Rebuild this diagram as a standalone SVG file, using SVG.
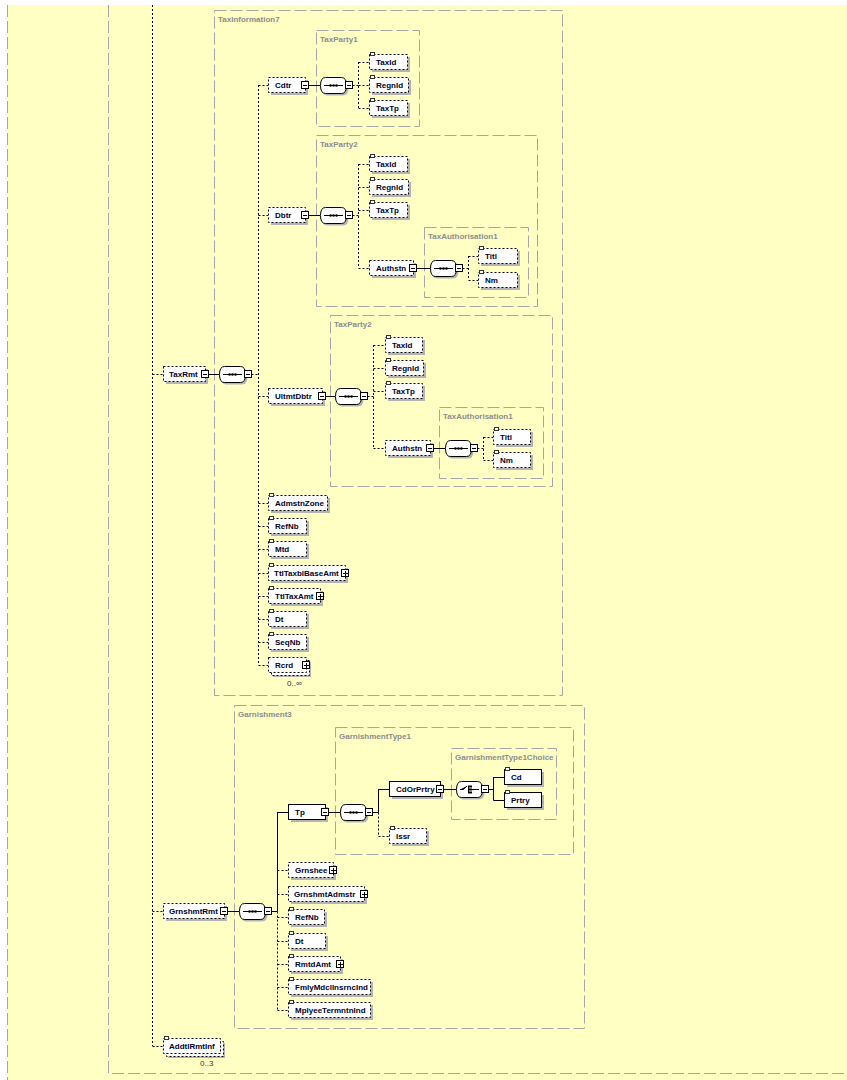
<svg xmlns="http://www.w3.org/2000/svg" xmlns:xlink="http://www.w3.org/1999/xlink" width="847" height="1080" viewBox="0 0 847 1080">
<style>
.g{fill:none;stroke:#a6a6a6;stroke-dasharray:12 4}
.gl{font-family:"Liberation Sans",Arial,sans-serif;font-weight:bold;font-size:8px;fill:#8c8c8c}
.n{fill:#fff;stroke:#000;stroke-dasharray:2 2}
.r{fill:#fff;stroke:#000}
.s{fill:#b4b4b4}
.t{font-family:"Liberation Sans",Arial,sans-serif;font-weight:bold;font-size:8px;fill:#00002a}
.m{font-family:"Liberation Sans",Arial,sans-serif;font-size:8px;fill:#333}
.d{fill:none;stroke:#000;stroke-dasharray:2 2}
.l{fill:none;stroke:#000}
</style>
<defs>
<g id="minus"><rect x="0.5" y="-3.5" width="7" height="7" fill="#fff" stroke="#000"/><path d="M2,0.5H6" stroke="#000"/></g>
<g id="plus"><rect x="0.5" y="-3.5" width="7" height="7" fill="#fff" stroke="#000"/><path d="M2,0.5H7M4.5,-2V3" stroke="#000"/></g>
<g id="eq"><rect x="0.5" y="0.5" width="4" height="3" fill="#fff" stroke="#333"/></g>
<g id="seq">
<path d="M7,-5.5H23Q28.5,-5.5 28.5,2.5Q28.5,10.5 23,10.5H7Q2.5,10.5 2.5,2.5Q2.5,-5.5 7,-5.5Z" fill="#b4b4b4"/>
<path d="M5.5,-7.5H21.5Q26.5,-7.5 26.5,0.5Q26.5,8.5 21.5,8.5H5.5Q0.5,8.5 0.5,0.5Q0.5,-7.5 5.5,-7.5Z" fill="#fff" stroke="#000"/>
<path d="M4,0.5H23" stroke="#000"/>
<circle cx="10.5" cy="0.5" r="1.3"/><circle cx="13.5" cy="0.5" r="1.3"/><circle cx="16.5" cy="0.5" r="1.3"/>
<use href="#minus" x="25" y="0"/>
</g>
<g id="cho">
<path d="M7,-5.5H23Q28.5,-5.5 28.5,2.5Q28.5,10.5 23,10.5H7Q2.5,10.5 2.5,2.5Q2.5,-5.5 7,-5.5Z" fill="#b4b4b4"/>
<path d="M5.5,-7.5H21.5Q26.5,-7.5 26.5,0.5Q26.5,8.5 21.5,8.5H5.5Q0.5,8.5 0.5,0.5Q0.5,-7.5 5.5,-7.5Z" fill="#fff" stroke="#000"/>
<path d="M4,0.5H7.5L11,-3M12.5,-3.5V4.5M16,0.5H23" stroke="#000"/>
<rect x="13" y="-3.5" width="3" height="2"/><rect x="13" y="-0.5" width="3" height="2"/><rect x="13" y="2.5" width="3" height="2"/>
<use href="#minus" x="25" y="0"/>
</g>
</defs>

<rect x="7" y="5" width="840" height="1075" fill="#ffffc4"/>

<g id="frames">
<path class="g" d="M7.5,5V1080M108.5,5V1073.5H847"/>
<rect class="g" x="214.5" y="10.5" width="348" height="685"/><text class="gl" x="218" y="22">TaxInformation7</text>
<rect class="g" x="316.5" y="30.5" width="103" height="96"/><text class="gl" x="320" y="42">TaxParty1</text>
<rect class="g" x="316.5" y="135.5" width="221" height="171"/><text class="gl" x="320" y="147">TaxParty2</text>
<rect class="g" x="424.5" y="227.5" width="104" height="70"/><text class="gl" x="428" y="239">TaxAuthorisation1</text>
<rect class="g" x="330.5" y="315.5" width="222" height="171"/><text class="gl" x="334" y="327">TaxParty2</text>
<rect class="g" x="439.5" y="407.5" width="104" height="71"/><text class="gl" x="443" y="419">TaxAuthorisation1</text>
<rect class="g" x="234.5" y="705.5" width="350" height="323"/><text class="gl" x="238" y="717">Garnishment3</text>
<rect class="g" x="335.5" y="727.5" width="238" height="127"/><text class="gl" x="339" y="739">GarnishmentType1</text>
<rect class="g" x="451.5" y="748.5" width="105" height="71"/><text class="gl" x="455" y="760">GarnishmentType1Choice</text>
</g>

<g id="connectors">
<path class="d" d="M152.5,5V1046M152.5,374.5H163M152.5,911.5H163M152.5,1046.5H163"/>
<path class="l" d="M208.5,374.5H219"/>
<path class="d" d="M251.5,374.5H258.5M258.5,85V665M258.5,85.5H268M258.5,215.5H268M258.5,396.5H268M258.5,503.5H268M258.5,526.5H268M258.5,549.5H268M258.5,573.5H268M258.5,596.5H268M258.5,619.5H268M258.5,642.5H268M258.5,665.5H268"/>
<path class="l" d="M308.5,85.5H320M308.5,215.5H320M325.5,396.5H335M416.5,268.5H430M433.5,448.5H445"/>
<path class="d" d="M352.5,85.5H358.5M358.5,62V108M358.5,62.5H369M358.5,108.5H369M358.5,85.5H369"/>
<path class="d" d="M352.5,215.5H358.5M358.5,164V268M358.5,164.5H369M358.5,187.5H369M358.5,210.5H369M358.5,268.5H369"/>
<path class="d" d="M462.5,268.5H468.5M468.5,256V280M468.5,256.5H478M468.5,280.5H478"/>
<path class="d" d="M367.5,396.5H373.5M373.5,345V448M373.5,345.5H385M373.5,368.5H385M373.5,391.5H385M373.5,448.5H385"/>
<path class="d" d="M477.5,448.5H483.5M483.5,437V460M483.5,437.5H493M483.5,460.5H493"/>
<path class="l" d="M227.5,911.5H239M271.5,911.5H277.5M277.5,812V911.5M277.5,812.5H288"/>
<path class="d" d="M277.5,911.5V1010M277.5,870.5H288M277.5,894.5H288M277.5,917.5H288M277.5,941.5H288M277.5,964.5H288M277.5,987.5H288M277.5,1010.5H288"/>
<path class="l" d="M328.5,812.5H340M372.5,812.5H378.5M378.5,789V812.5M378.5,789.5H389M443.5,789.5H456M488.5,789.5H493.5M493.5,777V800.5M493.5,777.5H504M493.5,800.5H504"/>
<path class="d" d="M378.5,812.5V836M378.5,836.5H389"/>
</g>

<g id="TaxRmt"><rect class="s" x="166" y="369" width="42" height="15"/><rect class="n" x="163.5" y="366.5" width="42" height="15"/><text class="t" x="169" y="377">TaxRmt</text><use href="#minus" x="201" y="374"/><use href="#seq" x="219" y="374"/></g>

<g id="Cdtr"><rect class="s" x="271" y="80" width="37" height="15"/><rect class="n" x="268.5" y="77.5" width="37" height="15"/><text class="t" x="275" y="88">Cdtr</text><use href="#minus" x="301" y="85"/><use href="#seq" x="320" y="85"/></g>
<g id="Cdtr-TaxId"><rect class="s" x="372" y="57" width="38" height="15"/><rect class="n" x="369.5" y="54.5" width="38" height="15"/><use href="#eq" x="370" y="52"/><text class="t" x="376" y="65">TaxId</text></g>
<g id="Cdtr-RegnId"><rect class="s" x="372" y="80" width="39" height="15"/><rect class="n" x="369.5" y="77.5" width="39" height="15"/><use href="#eq" x="370" y="75"/><text class="t" x="376" y="88">RegnId</text></g>
<g id="Cdtr-TaxTp"><rect class="s" x="372" y="103" width="38" height="15"/><rect class="n" x="369.5" y="100.5" width="38" height="15"/><use href="#eq" x="370" y="98"/><text class="t" x="376" y="111">TaxTp</text></g>

<g id="Dbtr"><rect class="s" x="271" y="210" width="37" height="15"/><rect class="n" x="268.5" y="207.5" width="37" height="15"/><text class="t" x="275" y="218">Dbtr</text><use href="#minus" x="301" y="215"/><use href="#seq" x="320" y="215"/></g>
<g id="Dbtr-TaxId"><rect class="s" x="372" y="159" width="38" height="15"/><rect class="n" x="369.5" y="156.5" width="38" height="15"/><use href="#eq" x="370" y="154"/><text class="t" x="376" y="167">TaxId</text></g>
<g id="Dbtr-RegnId"><rect class="s" x="372" y="182" width="39" height="15"/><rect class="n" x="369.5" y="179.5" width="39" height="15"/><use href="#eq" x="370" y="177"/><text class="t" x="376" y="190">RegnId</text></g>
<g id="Dbtr-TaxTp"><rect class="s" x="372" y="205" width="38" height="15"/><rect class="n" x="369.5" y="202.5" width="38" height="15"/><use href="#eq" x="370" y="200"/><text class="t" x="376" y="213">TaxTp</text></g>
<g id="Dbtr-Authstn"><rect class="s" x="372" y="263" width="44" height="15"/><rect class="n" x="369.5" y="260.5" width="44" height="15"/><text class="t" x="376" y="271">Authstn</text><use href="#minus" x="409" y="268"/><use href="#seq" x="430" y="268"/></g>
<g id="Dbtr-Titl"><rect class="s" x="481" y="251" width="39" height="15"/><rect class="n" x="478.5" y="248.5" width="39" height="15"/><use href="#eq" x="479" y="246"/><text class="t" x="485" y="259">Titl</text></g>
<g id="Dbtr-Nm"><rect class="s" x="481" y="275" width="39" height="15"/><rect class="n" x="478.5" y="272.5" width="39" height="15"/><use href="#eq" x="479" y="270"/><text class="t" x="485" y="283">Nm</text></g>

<g id="UltmtDbtr"><rect class="s" x="271" y="391" width="54" height="15"/><rect class="n" x="268.5" y="388.5" width="54" height="15"/><text class="t" x="275" y="399">UltmtDbtr</text><use href="#minus" x="318" y="396"/><use href="#seq" x="335" y="396"/></g>
<g id="Ultmt-TaxId"><rect class="s" x="388" y="340" width="37" height="15"/><rect class="n" x="385.5" y="337.5" width="37" height="15"/><use href="#eq" x="386" y="335"/><text class="t" x="392" y="348">TaxId</text></g>
<g id="Ultmt-RegnId"><rect class="s" x="388" y="363" width="38" height="15"/><rect class="n" x="385.5" y="360.5" width="38" height="15"/><use href="#eq" x="386" y="358"/><text class="t" x="392" y="371">RegnId</text></g>
<g id="Ultmt-TaxTp"><rect class="s" x="388" y="386" width="37" height="15"/><rect class="n" x="385.5" y="383.5" width="37" height="15"/><use href="#eq" x="386" y="381"/><text class="t" x="392" y="394">TaxTp</text></g>
<g id="Ultmt-Authstn"><rect class="s" x="388" y="443" width="45" height="15"/><rect class="n" x="385.5" y="440.5" width="45" height="15"/><text class="t" x="392" y="451">Authstn</text><use href="#minus" x="426" y="448"/><use href="#seq" x="445" y="448"/></g>
<g id="Ultmt-Titl"><rect class="s" x="496" y="432" width="37" height="15"/><rect class="n" x="493.5" y="429.5" width="37" height="15"/><use href="#eq" x="494" y="427"/><text class="t" x="500" y="440">Titl</text></g>
<g id="Ultmt-Nm"><rect class="s" x="496" y="455" width="37" height="15"/><rect class="n" x="493.5" y="452.5" width="37" height="15"/><use href="#eq" x="494" y="450"/><text class="t" x="500" y="463">Nm</text></g>

<g id="AdmstnZone"><rect class="s" x="271" y="498" width="59" height="15"/><rect class="n" x="268.5" y="495.5" width="59" height="15"/><use href="#eq" x="269" y="493"/><text class="t" x="275" y="506">AdmstnZone</text></g>
<g id="RefNb"><rect class="s" x="271" y="521" width="38" height="15"/><rect class="n" x="268.5" y="518.5" width="38" height="15"/><use href="#eq" x="269" y="516"/><text class="t" x="275" y="529">RefNb</text></g>
<g id="Mtd"><rect class="s" x="271" y="544" width="38" height="15"/><rect class="n" x="268.5" y="541.5" width="38" height="15"/><use href="#eq" x="269" y="539"/><text class="t" x="275" y="552">Mtd</text></g>
<g id="TtlTaxblBaseAmt"><rect class="s" x="271" y="568" width="77" height="15"/><rect class="n" x="268.5" y="565.5" width="77" height="15"/><use href="#eq" x="269" y="563"/><text class="t" x="274" y="576">TtlTaxblBaseAmt</text><use href="#plus" x="341" y="573"/></g>
<g id="TtlTaxAmt"><rect class="s" x="271" y="591" width="52" height="15"/><rect class="n" x="268.5" y="588.5" width="52" height="15"/><use href="#eq" x="269" y="586"/><text class="t" x="275" y="599">TtlTaxAmt</text><use href="#plus" x="316" y="596"/></g>
<g id="Dt"><rect class="s" x="271" y="614" width="38" height="15"/><rect class="n" x="268.5" y="611.5" width="38" height="15"/><use href="#eq" x="269" y="609"/><text class="t" x="275" y="622">Dt</text></g>
<g id="SeqNb"><rect class="s" x="271" y="637" width="38" height="15"/><rect class="n" x="268.5" y="634.5" width="38" height="15"/><use href="#eq" x="269" y="632"/><text class="t" x="275" y="645">SeqNb</text></g>
<g id="Rcrd"><rect class="s" x="273" y="662" width="38" height="15"/><rect class="n" x="271.5" y="660.5" width="38" height="15"/><rect class="n" x="268.5" y="657.5" width="38" height="15"/><text class="t" x="275" y="668">Rcrd</text><use href="#plus" x="302" y="665"/><text class="m" x="287" y="686">0..∞</text></g>

<g id="GrnshmtRmt"><rect class="s" x="166" y="906" width="61" height="15"/><rect class="n" x="163.5" y="903.5" width="61" height="15"/><text class="t" x="169" y="914">GrnshmtRmt</text><use href="#minus" x="220" y="911"/><use href="#seq" x="239" y="911"/></g>
<g id="Tp"><rect class="s" x="291" y="807" width="37" height="15"/><rect class="r" x="288.5" y="804.5" width="37" height="15"/><text class="t" x="295" y="815">Tp</text><use href="#minus" x="321" y="812"/><use href="#seq" x="340" y="812"/></g>
<g id="CdOrPrtry"><rect class="s" x="392" y="784" width="51" height="15"/><rect class="r" x="389.5" y="781.5" width="51" height="15"/><text class="t" x="396" y="792">CdOrPrtry</text><use href="#minus" x="436" y="789"/><use href="#cho" x="456" y="789"/></g>
<g id="Cd"><rect class="s" x="507" y="772" width="37" height="15"/><rect class="r" x="504.5" y="769.5" width="37" height="15"/><use href="#eq" x="505" y="767"/><text class="t" x="511" y="780">Cd</text></g>
<g id="Prtry"><rect class="s" x="507" y="795" width="37" height="15"/><rect class="r" x="504.5" y="792.5" width="37" height="15"/><use href="#eq" x="505" y="790"/><text class="t" x="511" y="803">Prtry</text></g>
<g id="Issr"><rect class="s" x="392" y="831" width="37" height="15"/><rect class="n" x="389.5" y="828.5" width="37" height="15"/><use href="#eq" x="390" y="826"/><text class="t" x="396" y="839">Issr</text></g>
<g id="Grnshee"><rect class="s" x="291" y="865" width="45" height="15"/><rect class="n" x="288.5" y="862.5" width="45" height="15"/><text class="t" x="295" y="873">Grnshee</text><use href="#plus" x="329" y="870"/></g>
<g id="GrnshmtAdmstr"><rect class="s" x="291" y="889" width="76" height="15"/><rect class="n" x="288.5" y="886.5" width="76" height="15"/><text class="t" x="294" y="897">GrnshmtAdmstr</text><use href="#plus" x="360" y="894"/></g>
<g id="Grn-RefNb"><rect class="s" x="291" y="912" width="36" height="15"/><rect class="n" x="288.5" y="909.5" width="36" height="15"/><use href="#eq" x="289" y="907"/><text class="t" x="295" y="920">RefNb</text></g>
<g id="Grn-Dt"><rect class="s" x="291" y="936" width="37" height="15"/><rect class="n" x="288.5" y="933.5" width="37" height="15"/><use href="#eq" x="289" y="931"/><text class="t" x="295" y="944">Dt</text></g>
<g id="RmtdAmt"><rect class="s" x="291" y="959" width="52" height="15"/><rect class="n" x="288.5" y="956.5" width="52" height="15"/><use href="#eq" x="289" y="954"/><text class="t" x="295" y="967">RmtdAmt</text><use href="#plus" x="336" y="964"/></g>
<g id="FmlyMdclInsrncInd"><rect class="s" x="291" y="982" width="82" height="15"/><rect class="n" x="288.5" y="979.5" width="82" height="15"/><use href="#eq" x="289" y="977"/><text class="t" x="295" y="990">FmlyMdclInsrncInd</text></g>
<g id="MplyeeTermntnInd"><rect class="s" x="291" y="1005" width="82" height="15"/><rect class="n" x="288.5" y="1002.5" width="82" height="15"/><use href="#eq" x="289" y="1000"/><text class="t" x="295" y="1013">MplyeeTermntnInd</text></g>

<g id="AddtlRmtInf"><rect class="s" x="168" y="1043" width="57" height="15"/><rect class="n" x="166.5" y="1041.5" width="57" height="15"/><rect class="n" x="163.5" y="1038.5" width="57" height="15"/><use href="#eq" x="164" y="1036"/><text class="t" x="169" y="1049">AddtlRmtInf</text><text class="m" x="200" y="1066">0..3</text></g>
</svg>
